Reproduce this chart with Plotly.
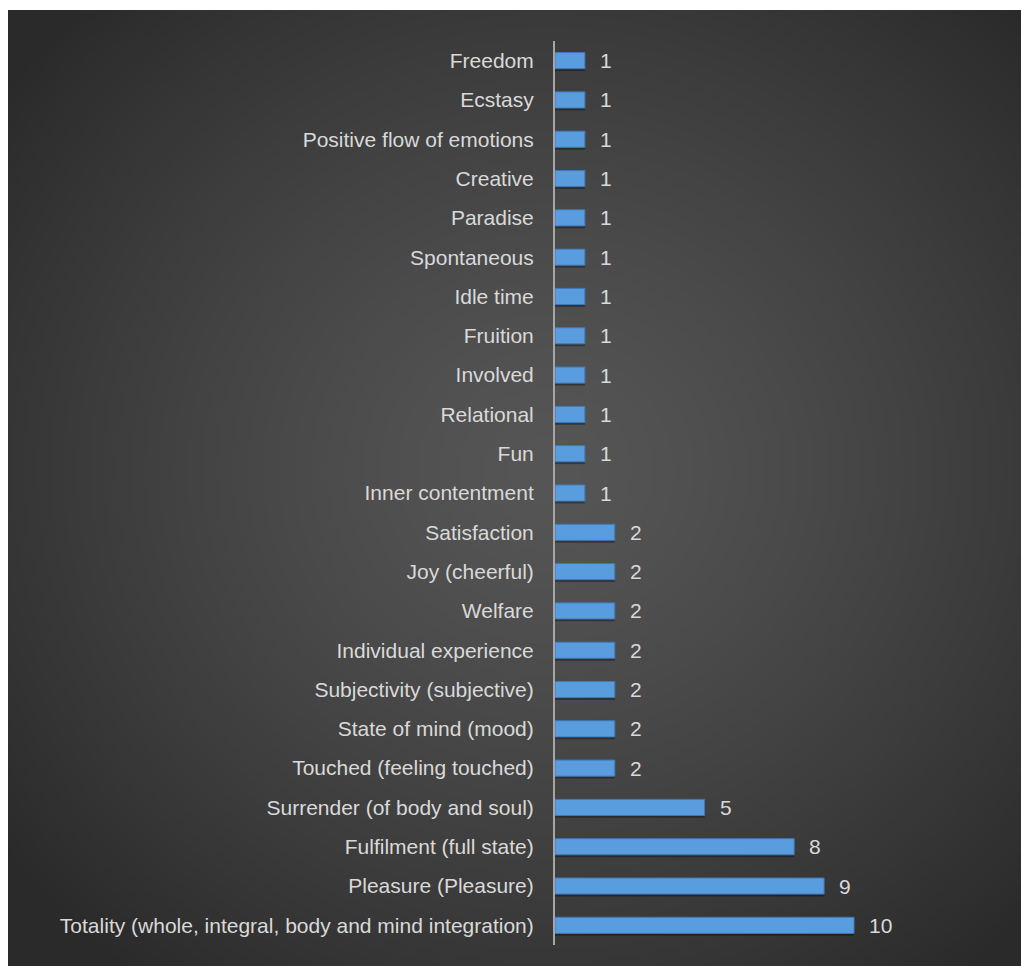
import base64, zlib, struct
import numpy as np
import plotly.graph_objects as go

categories = [
    "Freedom", "Ecstasy", "Positive flow of emotions", "Creative", "Paradise",
    "Spontaneous", "Idle time", "Fruition", "Involved", "Relational", "Fun",
    "Inner contentment", "Satisfaction", "Joy (cheerful)", "Welfare",
    "Individual experience", "Subjectivity (subjective)", "State of mind (mood)",
    "Touched (feeling touched)", "Surrender (of body and soul)",
    "Fulfilment (full state)", "Pleasure (Pleasure)",
    "Totality (whole, integral, body and mind integration)",
]
values = [1, 1, 1, 1, 1, 1, 1, 1, 1, 1, 1, 1, 2, 2, 2, 2, 2, 2, 2, 5, 8, 9, 10]

# ---- radial gradient background as PNG data URI ----
def make_png(arr):
    h, w, _ = arr.shape
    raw = b"".join(b"\x00" + arr[i].tobytes() for i in range(h))
    def chunk(t, d):
        c = struct.pack(">I", len(d)) + t + d
        return c + struct.pack(">I", zlib.crc32(t + d) & 0xffffffff)
    png = b"\x89PNG\r\n\x1a\n" + chunk(b"IHDR", struct.pack(">IIBBBBB", w, h, 8, 2, 0, 0, 0))
    png += chunk(b"IDAT", zlib.compress(raw, 9)) + chunk(b"IEND", b"")
    return "data:image/png;base64," + base64.b64encode(png).decode()

W, H = 506, 478
yy, xx = np.mgrid[0:H, 0:W]
cx, cy = W * 0.53, H * 0.48
d = np.sqrt(((xx - cx) / (W / 2)) ** 2 + ((yy - cy) / (H / 2)) ** 2) / 1.35
d = np.clip(d, 0, 1)
inner, outer = 86, 42
g = (inner + (outer - inner) * d ** 1.3).astype(np.uint8)
img = np.stack([g, g, g], axis=-1)
bg_uri = make_png(img)

FW, FH = 1021, 966
L, R, T, B = 555, 18, 41, 21
pw = FW - L - R
ph = FH - T - B
bg_left, bg_top = 8, 10  # dark panel edges in figure px

fig = go.Figure()
# soft shadow under the bars
fig.add_trace(go.Bar(
    x=values, y=categories, orientation="h", width=0.41, offset=-0.41 / 2 + 0.06,
    marker=dict(color="rgba(0,0,0,0.35)", line=dict(width=0)),
    hoverinfo="skip",
))
fig.add_trace(go.Bar(
    x=values, y=categories, orientation="h", width=0.41, offset=-0.41 / 2,
    marker=dict(color="#5a9ddf", line=dict(color="#3f78b8", width=1)),
    hoverinfo="x+y",
))

annotations = [
    dict(x=v, y=c, text=str(v), xref="x", yref="y", xanchor="left", yanchor="middle",
         xshift=13, showarrow=False,
         font=dict(family="Liberation Sans, Arial, sans-serif", size=21, color="#d9d9d9"))
    for c, v in zip(categories, values)
]

fig.update_layout(
    width=FW, height=FH,
    margin=dict(l=L, r=R, t=T, b=B, pad=0),
    paper_bgcolor="white", plot_bgcolor="rgba(0,0,0,0)",
    showlegend=False,
    barmode="overlay",
    annotations=annotations,
    images=[dict(source=bg_uri, xref="paper", yref="paper",
                 x=(bg_left - L) / pw, y=(FH - B - bg_top) / ph,
                 sizex=(FW - bg_left) / pw, sizey=(FH - bg_top) / ph,
                 xanchor="left", yanchor="top", sizing="stretch", layer="below")],
    xaxis=dict(range=[0, pw / 29.9], visible=False, fixedrange=True),
    yaxis=dict(autorange="reversed", showline=True, linecolor="#a6a6a6", linewidth=2,
               showgrid=False, zeroline=False, ticks="", ticklabelstandoff=15,
               fixedrange=True,
               tickfont=dict(family="Liberation Sans, Arial, sans-serif", size=21, color="#d9d9d9")),
    font=dict(family="Liberation Sans, Arial, sans-serif"),
)

fig.write_html("out.html",
               config={"displayModeBar": False},
               post_script="document.body.style.margin='0';document.body.style.overflow='hidden';")
